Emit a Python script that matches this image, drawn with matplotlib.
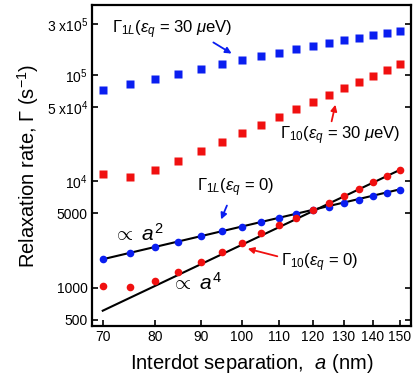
import matplotlib
matplotlib.use("Agg")
import matplotlib.pyplot as plt
from matplotlib.ticker import FixedLocator, NullLocator

plt.rcParams['font.family'] = ['Liberation Sans', 'DejaVu Sans']
plt.rcParams['mathtext.fontset'] = 'custom'
plt.rcParams['mathtext.rm'] = 'Liberation Sans'
plt.rcParams['mathtext.it'] = 'Liberation Sans:italic'
plt.rcParams['mathtext.cal'] = 'Liberation Sans'

a = [70, 75, 80, 85, 90, 95, 100, 105, 110, 115, 120, 125, 130, 135, 140, 145, 150]
g1L_30 = [7.23e4, 8.17e4, 9.23e4, 1.03e5, 1.15e5, 1.27e5, 1.38e5, 1.50e5, 1.62e5,
          1.76e5, 1.88e5, 1.99e5, 2.12e5, 2.24e5, 2.36e5, 2.48e5, 2.61e5]
g10_30 = [1.16e4, 1.10e4, 1.28e4, 1.54e4, 1.93e4, 2.36e4, 2.85e4, 3.41e4, 4.06e4,
          4.82e4, 5.61e4, 6.49e4, 7.50e4, 8.65e4, 9.79e4, 1.11e5, 1.26e5]
g1L_0 = [1858, 2130, 2392, 2685, 3039, 3388, 3744, 4114, 4487, 4895, 5337, 5771,
         6250, 6674, 7228, 7717, 8282]
g10_0 = [1035, 1014, 1162, 1412, 1754, 2161, 2643, 3241, 3879, 4545, 5373, 6294,
         7328, 8515, 9791, 11200, 12800]
fit_a = [70, 150]
fit_a2 = [1850, 8400]
fit_a4 = [607, 12800]

xticks = [70, 80, 90, 100, 110, 120, 130, 140, 150]
yticks = [500, 1000, 5000, 1e4, 5e4, 1e5, 3e5]
ytick_labels = ['500', '1000', '5000', r'10$^{4}$', r'5 x10$^{4}$', r'10$^{5}$', r'3 x10$^{5}$']

fig = plt.figure(figsize=(4.15, 3.76), dpi=100)
ax = fig.add_axes([0.2217, 0.133, 0.7683, 0.8537])
ax.set_xscale('log')
ax.set_yscale('log')
ax.set_xlim(68.1, 154.3)
ax.set_ylim(436, 4.55e5)

blue = '#0a1ef0'
red = '#f01010'
ax.plot(fit_a, fit_a2, color='black', lw=1.5, zorder=2)
ax.plot(fit_a, fit_a4, color='black', lw=1.5, zorder=2)
ax.plot(a, g1L_30, 's', color=blue, ms=5.5, mec='none', zorder=3)
ax.plot(a, g10_30, 's', color=red, ms=5.5, mec='none', zorder=3)
ax.plot(a, g1L_0, 'o', color=blue, ms=5.5, mec='none', zorder=3)
ax.plot(a, g10_0, 'o', color=red, ms=5.5, mec='none', zorder=3)

ax.xaxis.set_major_locator(FixedLocator(xticks))
ax.xaxis.set_minor_locator(NullLocator())
ax.set_xticklabels([str(v) for v in xticks])
ax.yaxis.set_major_locator(FixedLocator(yticks))
ax.yaxis.set_minor_locator(NullLocator())
ax.set_yticklabels(ytick_labels)
ax.tick_params(which='both', direction='in', length=4, width=1.2, labelsize=10,
               right=True, top=False, pad=3)
for s in ax.spines.values():
    s.set_linewidth(1.6)

ax.set_xlabel(r'Interdot separation,  $a$ (nm)', fontsize=14.5, labelpad=6)
ax.set_ylabel(r'Relaxation rate, $\Gamma$ (s$^{-1}$)', fontsize=14.5, labelpad=4)

def px(x, y):
    return (x / 415.0, 1 - y / 376.0)

tf = fig.transFigure
fs = 12
ax.text(*px(112, 30), r'$\Gamma_{1L}(\epsilon_q$ = 30 $\mu$eV)', transform=tf,
        fontsize=fs, va='center', ha='left')
ax.annotate('', xy=px(234, 55), xytext=px(211, 41), xycoords=tf, textcoords=tf,
            arrowprops=dict(arrowstyle='-|>', color=blue, lw=1.3, mutation_scale=9))
ax.text(*px(280, 136), r'$\Gamma_{10}(\epsilon_q$ = 30 $\mu$eV)', transform=tf,
        fontsize=fs, va='center', ha='left')
ax.annotate('', xy=px(336, 102), xytext=px(331, 124), xycoords=tf, textcoords=tf,
            arrowprops=dict(arrowstyle='-|>', color=red, lw=1.3, mutation_scale=9))
ax.text(*px(197, 188), r'$\Gamma_{1L}(\epsilon_q$ = 0)', transform=tf,
        fontsize=fs, va='center', ha='left')
ax.annotate('', xy=px(220, 222), xytext=px(228, 203), xycoords=tf, textcoords=tf,
            arrowprops=dict(arrowstyle='-|>', color=blue, lw=1.3, mutation_scale=9))
ax.text(*px(281, 263), r'$\Gamma_{10}(\epsilon_q$ = 0)', transform=tf,
        fontsize=fs, va='center', ha='left')
ax.annotate('', xy=px(245, 248), xytext=px(280, 257), xycoords=tf, textcoords=tf,
            arrowprops=dict(arrowstyle='-|>', color=red, lw=1.3, mutation_scale=9))
ax.text(*px(113, 234), r'$\propto$ $a^2$', transform=tf, fontsize=15,
        va='center', ha='left')
ax.text(*px(171, 283), r'$\propto$ $a^4$', transform=tf, fontsize=15,
        va='center', ha='left')

fig.savefig('out.png', dpi=100)
